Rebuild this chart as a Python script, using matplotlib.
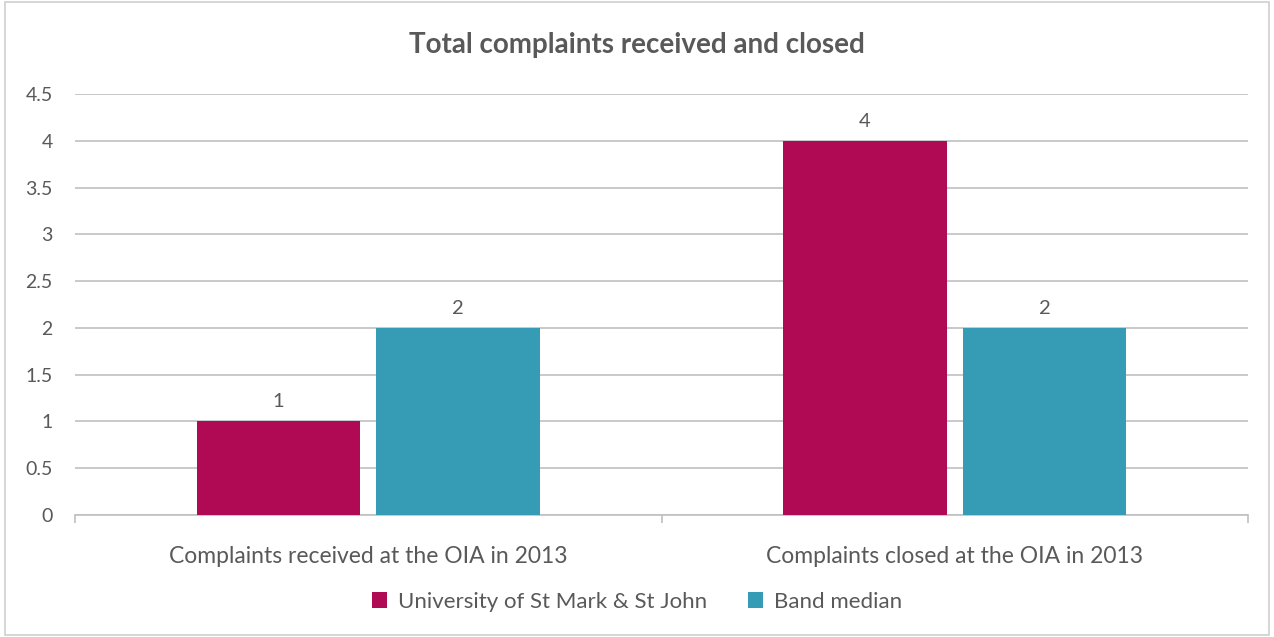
import numpy as np
import matplotlib
matplotlib.use("Agg")
import matplotlib.pyplot as plt
from matplotlib.patches import Rectangle

categories = ["Complaints received at the OIA in 2013", "Complaints closed at the OIA in 2013"]
series_names = ["University of St Mark & St John", "Band median"]
university = [1, 4]
band_median = [2, 2]
yticks = [0, 0.5, 1, 1.5, 2, 2.5, 3, 3.5, 4, 4.5]

colors = ["#B00A55", "#369CB5"]
text_color = "#595959"

plt.rcParams['font.family'] = ['Lato', 'DejaVu Sans']

fig = plt.figure(figsize=(12.74, 6.37), dpi=100)
fig.patches.append(Rectangle((0.004, 0.003), 0.992, 0.994, transform=fig.transFigure,
                             fill=False, edgecolor="#D0D0D0", linewidth=1.2))

ax = fig.add_axes([75 / 1274, 1 - 515 / 637, (1248 - 75) / 1274, (515 - 94) / 637])

x = np.arange(len(categories))
w = 0.278
off = 0.153
values = [university, band_median]
for i, (name, vals) in enumerate(zip(series_names, values)):
    pos = x + (-off if i == 0 else off)
    bars = ax.bar(pos, vals, width=w, color=colors[i], label=name, zorder=3)
    for b, v in zip(bars, vals):
        ax.text(b.get_x() + b.get_width() / 2, v + 0.12, f"{v:g}", ha="center", va="bottom",
                fontsize=14.5, color=text_color)

ax.set_xlim(-0.5, 1.5)
ax.set_ylim(0, 4.5)
ax.set_yticks(yticks)
ax.set_yticklabels([f"{t:g}" for t in yticks], fontsize=14, color=text_color)
ax.yaxis.grid(True, color="#C0C0C0", linewidth=1.2, zorder=0)
ax.tick_params(axis="y", length=0, pad=16)

ax.set_xticks([-0.5, 0.5, 1.5], minor=False)
ax.set_xticklabels([])
ax.tick_params(axis="x", length=6, color="#C0C0C0", width=1.2, direction="out")
ax.set_xticks(x, minor=True)
ax.set_xticklabels(categories, minor=True, fontsize=16.5, color=text_color)
ax.tick_params(axis="x", which="minor", length=0, pad=22)

for s in ["top", "right", "left"]:
    ax.spines[s].set_visible(False)
ax.spines["bottom"].set_color("#C0C0C0")
ax.spines["bottom"].set_linewidth(1.2)

fig.text(0.5, 1 - 45 / 637, "Total complaints received and closed", ha="center", va="center",
         fontsize=20, fontweight="bold", color=text_color)

fig.legend(loc="center", bbox_to_anchor=(0.5, 1 - 602 / 637), ncol=2, frameon=False,
           fontsize=16, handlelength=0.7, handleheight=0.7, columnspacing=1.8,
           handletextpad=0.5, labelcolor=text_color)

fig.savefig("out.png", dpi=100)
